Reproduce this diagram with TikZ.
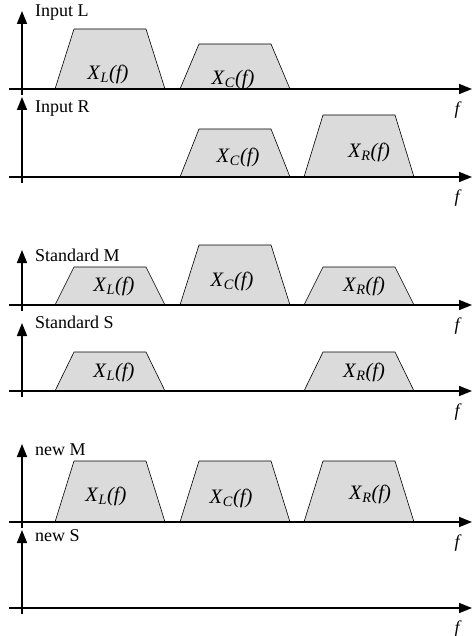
\documentclass[tikz,border=0pt]{standalone}
\usepackage{fontspec}
\setmainfont{Liberation Serif}
\usetikzlibrary{arrows.meta}
\newcommand{\sig}[1]{\textit{X}\textsubscript{\textit{#1}}\textit{(f)}}
\newcommand{\band}[3]{\draw[band] (#1,#2) -- (#1+19,#3) -- (#1+91,#3) -- (#1+110,#2) -- cycle;}

\begin{document}
\begin{tikzpicture}[x=1pt, y=-1pt,
  axis/.style={line width=1.6pt, -{Triangle[length=13pt, width=10pt]}},
  band/.style={draw, line width=0.6pt, fill=black!14},
  title/.style={anchor=west, inner sep=0pt, font=\fontsize{18}{20}\selectfont},
  lbl/.style={inner sep=0pt, font=\fontsize{20.5}{22}\selectfont},
  freq/.style={inner sep=0pt, font=\fontsize{18}{20}\selectfont\itshape}
]
\useasboundingbox (0,0) rectangle (473,636);

\band{55}{89}{29}
\band{180}{89}{44}
\node[lbl] (inL) at (108,74) {\sig{L}};
\node[lbl] (inC) at (233,79) {\sig{C}};

\band{180}{177}{129}
\band{304}{177}{115}
\node[lbl] (inRC) at (238,157) {\sig{C}};
\node[lbl] (inR) at (369,152) {\sig{R}};

\band{55}{305}{267}
\band{180}{305}{245}
\band{304}{305}{267}
\node[lbl] (stML) at (114,286) {\sig{L}};
\node[lbl] (stMC) at (232,281) {\sig{C}};
\node[lbl] (stMR) at (364,286) {\sig{R}};

\band{55}{391}{352}
\band{304}{391}{352}
\node[lbl] (stSL) at (114,372) {\sig{L}};
\node[lbl] (stSR) at (364,372) {\sig{R}};

\band{55}{522}{461}
\band{180}{522}{461}
\band{304}{522}{461}
\node[lbl] (nwL) at (106,496) {\sig{L}};
\node[lbl] (nwC) at (231,498) {\sig{C}};
\node[lbl] (nwR) at (370,494) {\sig{R}};

\foreach \ax/\tp/\ty/\ttl [count=\i] in {89/11/13/Input L, 177/97/109/Input R,
    305/250/255/Standard M, 391/323/322/Standard S, 522/444/450/new M, 608/530/536/new S} {
  \coordinate (o\i) at (22,\ax+6);
  \coordinate (t\i) at (22,\tp);
  \coordinate (s\i) at (9,\ax);
  \coordinate (e\i) at (472,\ax);
  \draw[axis] (o\i) -- (t\i);
  \draw[axis] (s\i) -- (e\i);
  \node[title] (title\i) at (35,\ty) {\ttl};
  \node[freq] (f\i) at (457,\ax+21) {f};
}
\end{tikzpicture}
\end{document}
